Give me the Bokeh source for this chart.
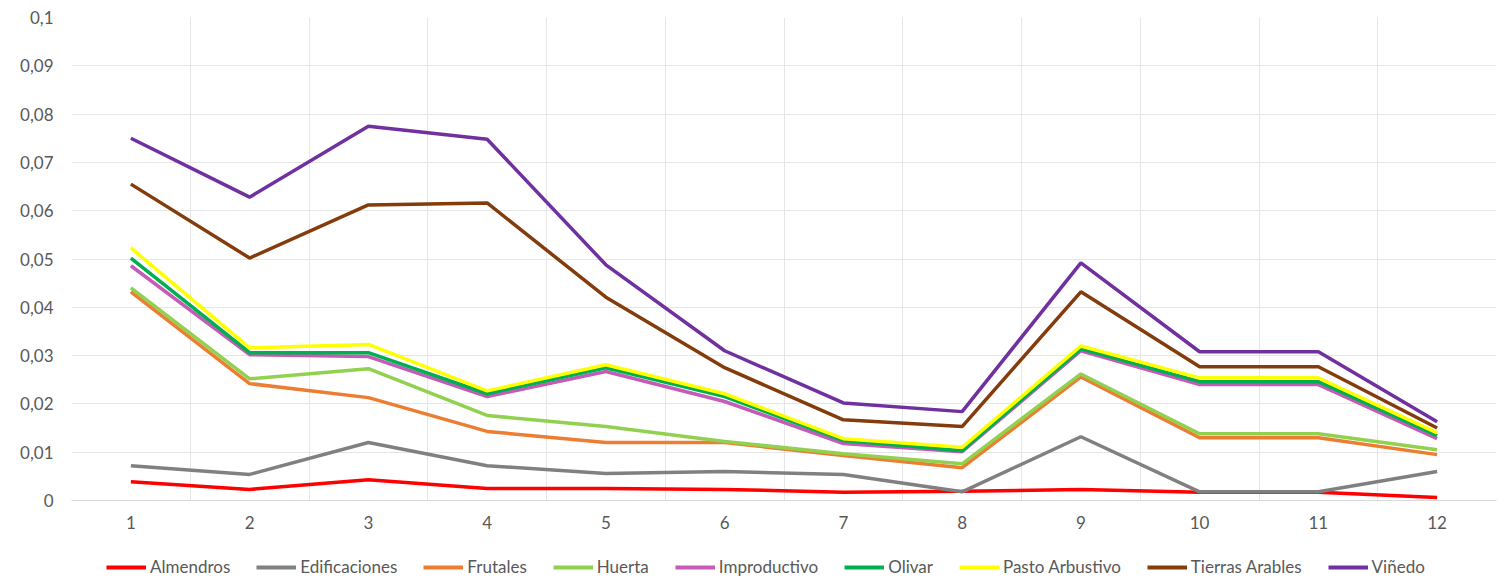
from bokeh.plotting import figure
from bokeh.models import FixedTicker, CustomJSTickFormatter, Legend, LegendItem, Range1d
from bokeh.layouts import column
from bokeh.embed import file_html
from bokeh.resources import INLINE

categories = [1, 2, 3, 4, 5, 6, 7, 8, 9, 10, 11, 12]
series_names = ["Almendros", "Edificaciones", "Frutales", "Huerta", "Improductivo",
                "Olivar", "Pasto Arbustivo", "Tierras Arables", "Viñedo"]
almendros = [0.0039, 0.0023, 0.0043, 0.0025, 0.0025, 0.0023, 0.0017, 0.0019, 0.0023, 0.0017, 0.0017, 0.0006]
edificaciones = [0.0072, 0.0054, 0.0120, 0.0072, 0.0056, 0.0060, 0.0054, 0.0018, 0.0132, 0.0018, 0.0018, 0.0060]
frutales = [0.0432, 0.0242, 0.0213, 0.0143, 0.0120, 0.0120, 0.0093, 0.0068, 0.0256, 0.0130, 0.0130, 0.0095]
huerta = [0.0440, 0.0252, 0.0273, 0.0176, 0.0153, 0.0122, 0.0097, 0.0076, 0.0262, 0.0138, 0.0138, 0.0105]
improductivo = [0.0486, 0.0302, 0.0298, 0.0215, 0.0267, 0.0205, 0.0118, 0.0101, 0.0310, 0.0240, 0.0240, 0.0128]
olivar = [0.0502, 0.0306, 0.0306, 0.0221, 0.0275, 0.0215, 0.0124, 0.0103, 0.0314, 0.0246, 0.0246, 0.0134]
pasto = [0.0523, 0.0316, 0.0323, 0.0227, 0.0281, 0.0221, 0.0128, 0.0110, 0.0320, 0.0254, 0.0254, 0.0140]
tierras = [0.0655, 0.0502, 0.0612, 0.0616, 0.0421, 0.0275, 0.0167, 0.0153, 0.0432, 0.0277, 0.0277, 0.0150]
vinedo = [0.0750, 0.0628, 0.0775, 0.0748, 0.0488, 0.0310, 0.0202, 0.0184, 0.0492, 0.0308, 0.0308, 0.0163]
y_ticks = [0, 0.01, 0.02, 0.03, 0.04, 0.05, 0.06, 0.07, 0.08, 0.09, 0.1]

series_values = [almendros, edificaciones, frutales, huerta, improductivo, olivar, pasto, tierras, vinedo]
colors = ["#FF0000", "#808080", "#ED7D31", "#92D050", "#C55AB8", "#00B050", "#FFFF00", "#843C0C", "#7030A0"]

FONT = "Lato"
TXT = "#595959"
GRID = "#e6e6e6"
LW = 3.5

p = figure(width=1505, height=545, output_backend="svg", toolbar_location=None,
           x_range=Range1d(0.5, len(categories) + 0.5), y_range=Range1d(0, 0.1),
           frame_width=1425, frame_height=483,
           min_border_left=71, min_border_right=9, min_border_top=17, min_border_bottom=45)
p.outline_line_color = None
p.background_fill_color = "white"
p.border_fill_color = "white"

for name, vals, c in zip(series_names, series_values, colors):
    p.line(categories, vals, line_color=c, line_width=LW)

p.xaxis.ticker = FixedTicker(ticks=categories)
p.xaxis.axis_line_color = "#d9d9d9"
p.xaxis.major_tick_line_color = None
p.xaxis.major_tick_out = 0
p.xaxis.major_tick_in = 0
p.xaxis.minor_tick_line_color = None
p.xaxis.major_label_text_font = FONT
p.xaxis.major_label_text_font_size = "17px"
p.xaxis.major_label_text_color = TXT
p.xaxis.major_label_standoff = 15

p.yaxis.ticker = FixedTicker(ticks=y_ticks)
p.yaxis.formatter = CustomJSTickFormatter(code="return (Math.round(tick*100)/100).toString().replace('.', ',');")
p.yaxis.axis_line_color = None
p.yaxis.major_tick_line_color = None
p.yaxis.major_tick_out = 0
p.yaxis.major_tick_in = 0
p.yaxis.minor_tick_line_color = None
p.yaxis.major_label_text_font = FONT
p.yaxis.major_label_text_font_size = "17px"
p.yaxis.major_label_text_color = TXT
p.yaxis.major_label_standoff = 18

p.xgrid.ticker = FixedTicker(ticks=[i + 0.5 for i in range(0, len(categories) + 1)])
p.xgrid.grid_line_color = GRID
p.ygrid.grid_line_color = GRID

# legend strip below the chart (its series sit outside its visible range)
lg = figure(width=1505, height=34, output_backend="svg", toolbar_location=None,
            min_border=0, x_axis_type=None, y_axis_type=None,
            x_range=Range1d(100, 101), y_range=Range1d(0, 0.1))
lg.outline_line_color = None
lg.xgrid.visible = False
lg.ygrid.visible = False
lg.border_fill_color = "white"
items = []
for name, vals, c in zip(series_names, series_values, colors):
    r = lg.line(categories, vals, line_color=c, line_width=LW + 0.5)
    items.append(LegendItem(label=name, renderers=[r]))
legend = Legend(items=items, orientation="horizontal", location=(35, 2),
                label_text_font=FONT, label_text_font_size="17px", label_text_color=TXT,
                label_height=20, glyph_width=40, glyph_height=20, label_standoff=4, spacing=26,
                padding=0, margin=0, border_line_color=None, background_fill_alpha=0)
lg.add_layout(legend)

layout = column(p, lg, spacing=0)
open("out.html", "w").write(file_html(layout, INLINE))
